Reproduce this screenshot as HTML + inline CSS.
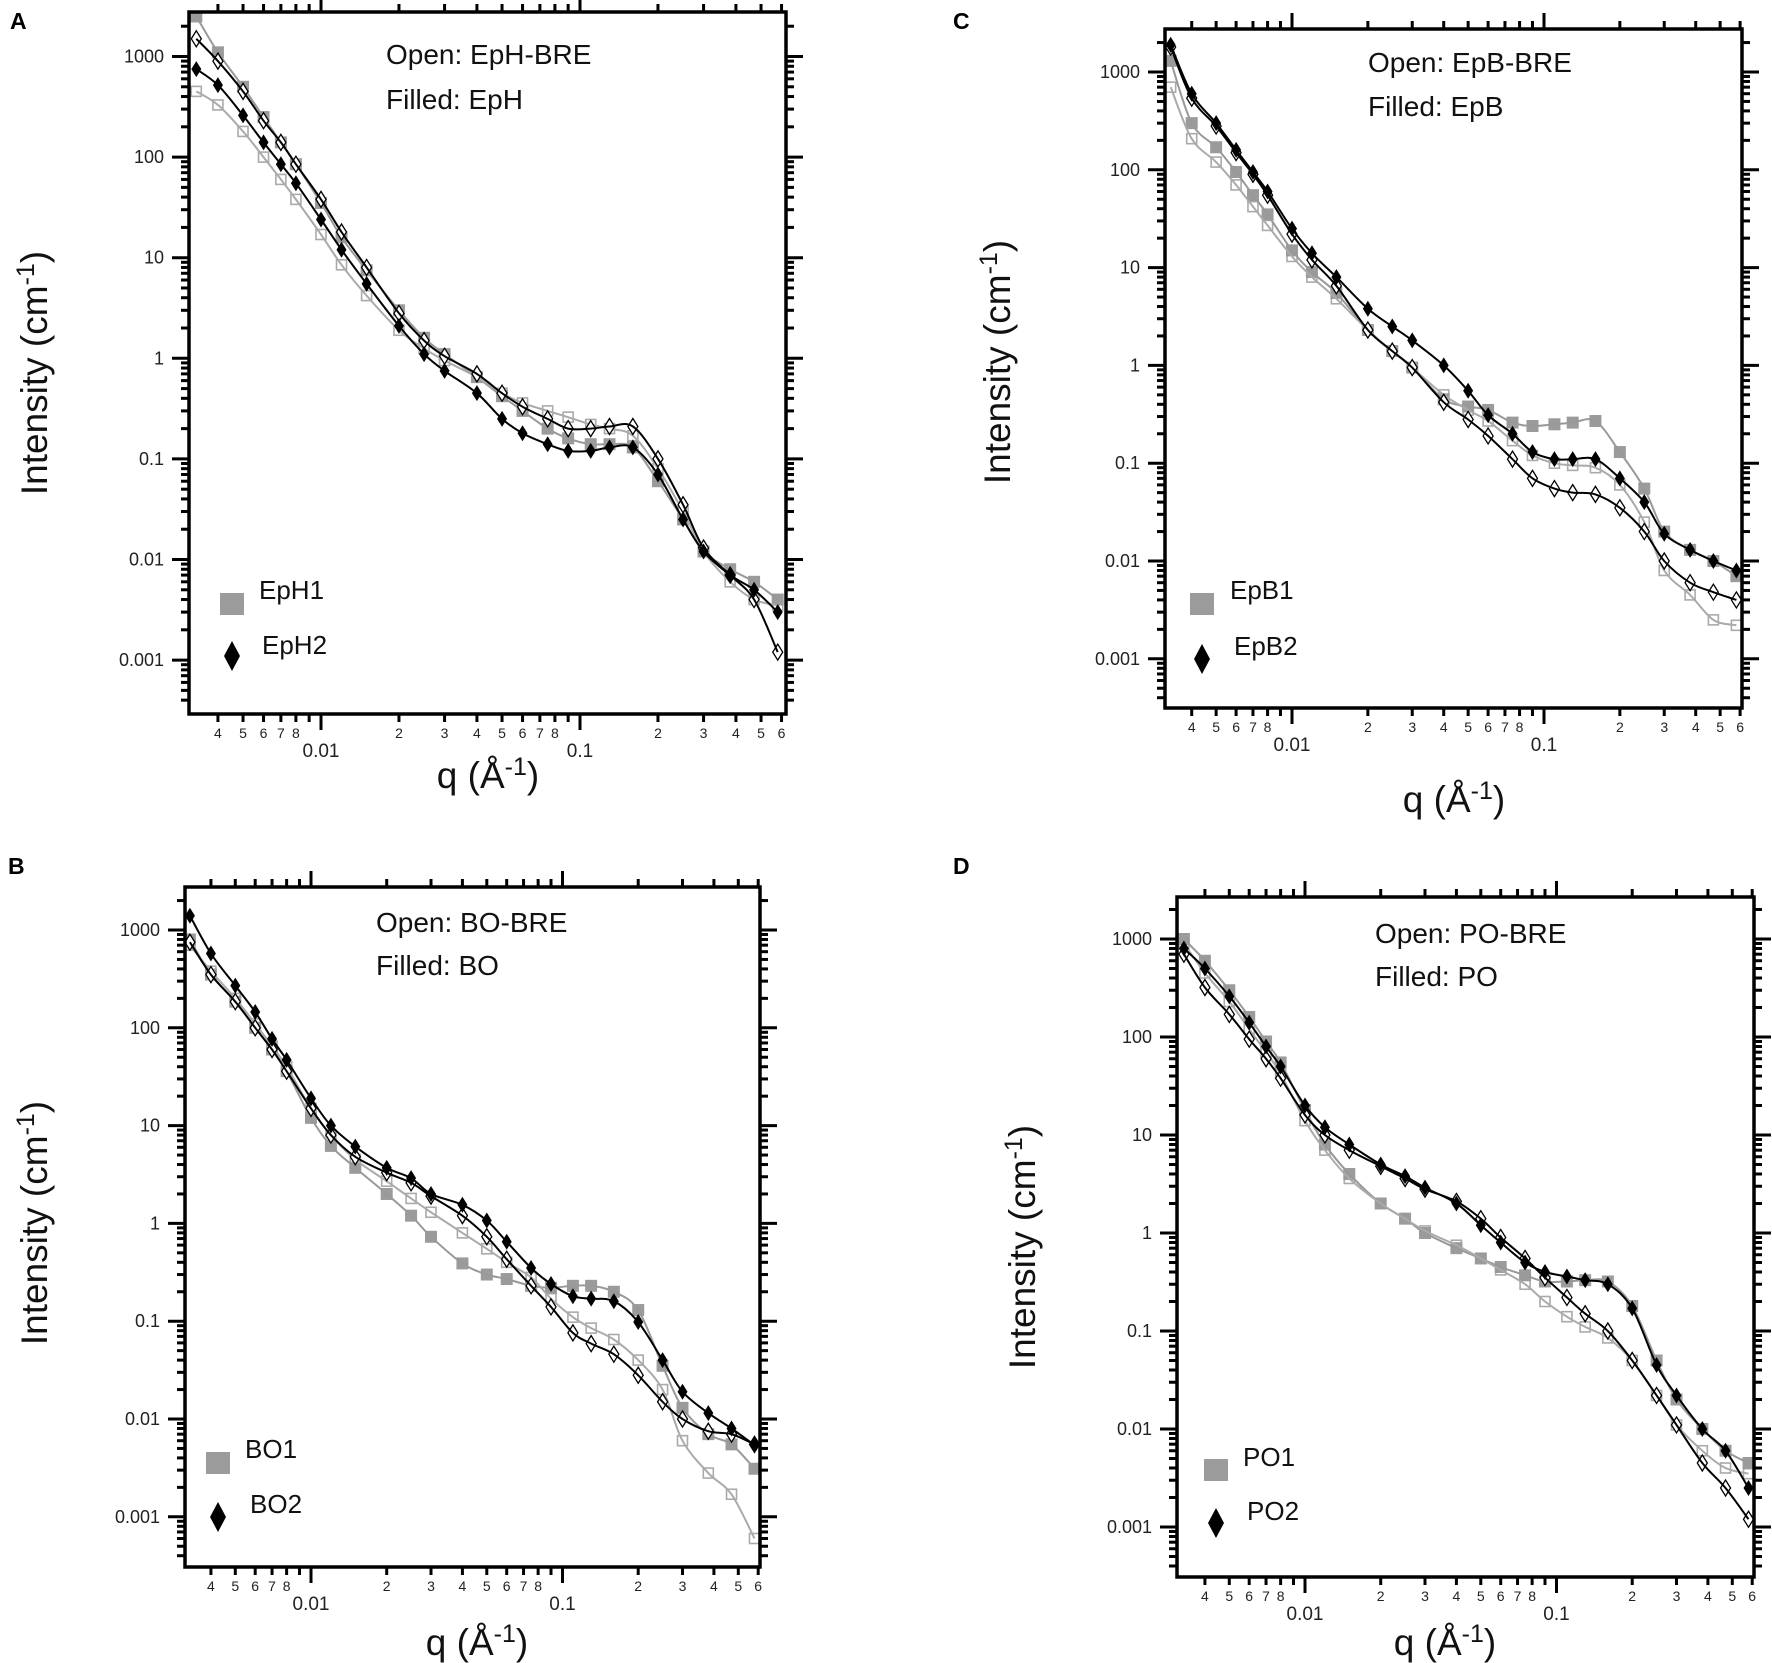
<!DOCTYPE html>
<html><head><meta charset="utf-8">
<style>
html,body{margin:0;padding:0;background:#fff;}
svg{display:block;font-family:"Liberation Sans",sans-serif;}
</style></head>
<body>
<svg id="fig" width="1772" height="1663" viewBox="0 0 1772 1663" xmlns="http://www.w3.org/2000/svg"></svg>
<script>
// shared q grid (Å^-1)
const qVals = [0.0033,0.004,0.005,0.006,0.007,0.008,0.01,0.012,0.015,0.02,0.025,0.03,0.04,0.05,0.06,0.075,0.09,0.11,0.13,0.16,0.2,0.25,0.3,0.38,0.47,0.58];

// Panel A (EpH)
const epH1 = [2500,1100,500,250,140,85,35,16,7.5,3.0,1.6,1.1,0.65,0.42,0.3,0.2,0.16,0.14,0.14,0.13,0.06,0.025,0.012,0.008,0.006,0.004];
const epH1Bre = [450,330,180,100,60,38,17,8.5,4.2,1.9,1.25,0.95,0.65,0.45,0.36,0.3,0.26,0.22,0.2,0.17,0.08,0.03,0.012,0.006,0.004,0.0035];
const epH2 = [750,520,260,140,85,55,24,12,5.5,2.1,1.1,0.75,0.45,0.25,0.18,0.14,0.12,0.12,0.13,0.13,0.07,0.025,0.012,0.007,0.005,0.003];
const epH2Bre = [1500,900,450,230,140,85,38,18,8,2.8,1.5,1.05,0.7,0.45,0.33,0.25,0.2,0.2,0.21,0.21,0.1,0.035,0.013,0.007,0.004,0.0012];

// Panel C (EpB)
const epB1 = [1300,300,170,95,55,35,15,9,5.5,2.3,1.4,0.95,0.45,0.38,0.35,0.26,0.24,0.25,0.26,0.27,0.13,0.055,0.02,0.013,0.01,0.007];
const epB1Bre = [700,208,120,70,42,27,13,8,4.8,2.3,1.4,0.95,0.5,0.35,0.27,0.17,0.12,0.1,0.095,0.09,0.06,0.025,0.008,0.0045,0.0025,0.0022];
const epB2 = [1900,600,300,160,95,60,25,14,8,3.8,2.5,1.8,1.0,0.55,0.31,0.2,0.13,0.11,0.11,0.11,0.07,0.04,0.019,0.013,0.01,0.008];
const epB2Bre = [1800,540,280,150,90,55,22,12,6.5,2.3,1.4,0.95,0.42,0.28,0.19,0.11,0.07,0.055,0.05,0.048,0.035,0.02,0.01,0.006,0.0048,0.004];

// Panel B (BO)
const bo1 = [800,350,185,100,60,36,12,6.2,3.7,2.0,1.2,0.73,0.39,0.3,0.27,0.23,0.22,0.23,0.23,0.2,0.13,0.035,0.013,0.007,0.0055,0.0031];
const bo1Bre = [700,380,200,110,65,40,15,8,4.5,2.7,1.8,1.3,0.8,0.55,0.4,0.28,0.17,0.11,0.085,0.065,0.04,0.02,0.006,0.0028,0.0017,0.0006];
const bo2 = [1400,575,270,145,77,47,19,10,6.1,3.7,2.9,2.0,1.55,1.07,0.65,0.35,0.24,0.18,0.17,0.16,0.098,0.04,0.019,0.0115,0.008,0.0054];
const bo2Bre = [750,350,185,100,60,36,15,8,4.8,3.3,2.6,1.9,1.2,0.73,0.43,0.23,0.14,0.076,0.059,0.046,0.028,0.015,0.01,0.0075,0.007,0.0055];

// Panel D (PO)
const po1 = [1000,600,300,160,90,55,18,8,4,2.0,1.4,1.0,0.7,0.55,0.45,0.37,0.32,0.32,0.33,0.32,0.18,0.05,0.02,0.01,0.006,0.0045];
const po1Bre = [900,450,230,120,70,42,14,7,3.6,2.0,1.4,1.05,0.75,0.55,0.42,0.3,0.2,0.14,0.11,0.085,0.05,0.022,0.011,0.006,0.004,0.0035];
const po2 = [800,500,260,140,80,50,20,12,8,5,3.8,2.9,2.0,1.2,0.8,0.5,0.4,0.36,0.33,0.3,0.17,0.045,0.022,0.01,0.006,0.0025];
const po2Bre = [700,320,170,95,60,38,16,10,7,4.8,3.6,2.8,2.1,1.4,0.9,0.55,0.35,0.22,0.15,0.1,0.05,0.022,0.011,0.0045,0.0025,0.0012];

const yTickLabels = ["1000","100","10","1","0.1","0.01","0.001"];
const xMajorLabels = ["0.01","0.1"];

const NS = "http://www.w3.org/2000/svg";
const svg = document.getElementById("fig");
function mk(tag, attrs, parent){
  const e = document.createElementNS(NS, tag);
  for (const k in attrs) e.setAttribute(k, attrs[k]);
  (parent||svg).appendChild(e);
  return e;
}

const panels = [
 {key:"a", letter:"A", lx:10, ly:29, L:189, R:786, T:12, B:714, x01:321, xdec:259, y1000:56.5, ydec:100.6,
  ann:["Open: EpH-BRE","Filled: EpH"], annX:386, annY:[64,109],
  leg:["EpH1","EpH2"], legSq:[232,604], legSqT:[259,599], legDi:[232,656], legDiT:[262,654],
  yT:[34,373], xT:[488,788],
  s1:epH1, s1o:epH1Bre, s2:epH2, s2o:epH2Bre},
 {key:"c", letter:"C", lx:953, ly:29, L:1165, R:1742, T:29, B:708, x01:1292, xdec:252, y1000:72, ydec:97.8,
  ann:["Open: EpB-BRE","Filled: EpB"], annX:1368, annY:[72,116],
  leg:["EpB1","EpB2"], legSq:[1202,604], legSqT:[1230,599], legDi:[1202,659], legDiT:[1234,655],
  yT:[997,362], xT:[1454,812],
  s1:epB1, s1o:epB1Bre, s2:epB2, s2o:epB2Bre},
 {key:"b", letter:"B", lx:8, ly:874, L:185, R:760, T:887, B:1567, x01:311, xdec:251.5, y1000:930, ydec:97.8,
  ann:["Open: BO-BRE","Filled: BO"], annX:376, annY:[932,975],
  leg:["BO1","BO2"], legSq:[218,1463], legSqT:[245,1458], legDi:[218,1517], legDiT:[250,1513],
  yT:[34,1223], xT:[477,1655],
  s1:bo1, s1o:bo1Bre, s2:bo2, s2o:bo2Bre},
 {key:"d", letter:"D", lx:953, ly:874, L:1177, R:1754, T:897, B:1577, x01:1305, xdec:251.5, y1000:939, ydec:98,
  ann:["Open: PO-BRE","Filled: PO"], annX:1375, annY:[943,986],
  leg:["PO1","PO2"], legSq:[1216,1470], legSqT:[1243,1466], legDi:[1216,1523], legDiT:[1247,1520],
  yT:[1022,1247], xT:[1445,1655],
  s1:po1, s1o:po1Bre, s2:po2, s2o:po2Bre}
];

function smoothPath(pts){
  let d = "M"+pts[0][0].toFixed(1)+","+pts[0][1].toFixed(1);
  for (let i=0;i<pts.length-1;i++){
    const p0=pts[i-1]||pts[i], p1=pts[i], p2=pts[i+1], p3=pts[i+2]||p2;
    const c1=[p1[0]+(p2[0]-p0[0])/6, p1[1]+(p2[1]-p0[1])/6];
    const c2=[p2[0]-(p3[0]-p1[0])/6, p2[1]-(p3[1]-p1[1])/6];
    d+=" C"+c1[0].toFixed(1)+","+c1[1].toFixed(1)+" "+c2[0].toFixed(1)+","+c2[1].toFixed(1)+" "+p2[0].toFixed(1)+","+p2[1].toFixed(1);
  }
  return d;
}

panels.forEach(P=>{
  const g = mk("g",{});
  
  
  const xS = q => P.x01 + (Math.log10(q)+2)*P.xdec;
  const yS = v => P.y1000 + (3-Math.log10(v))*P.ydec;

  const lt = mk("text",{x:P.lx,y:P.ly,"font-size":23,"font-weight":"bold",fill:"#000"},g);
  lt.textContent = P.letter;
  
  

  const cp = mk("clipPath",{id:"clip-"+P.key},g);
  mk("rect",{x:P.L,y:P.T,width:P.R-P.L,height:P.B-P.T},cp);

  const ticks = mk("g",{stroke:"#000","stroke-width":3},g);
  
  
  for (let d=-4; d<=3; d++){
    for (let m=1;m<=9;m++){
      const v = m*Math.pow(10,d);
      const y = yS(v);
      if (y<P.T+2 || y>P.B-2) continue;
      const len = m===1?17:8;
      mk("line",{x1:P.L-len,y1:y,x2:P.L,y2:y},ticks);
      mk("line",{x1:P.R,y1:y,x2:P.R+len,y2:y},ticks);
    }
  }
  for (let d=-3; d<=0; d++){
    for (let m=1;m<=9;m++){
      const v = m*Math.pow(10,d);
      const x = xS(v);
      if (x<P.L+2 || x>P.R+2) continue;
      const len = m===1?16:8;
      mk("line",{x1:x,y1:P.B,x2:x,y2:P.B+len},ticks);
      mk("line",{x1:x,y1:P.T-len,x2:x,y2:P.T},ticks);
      if (m>=2 && m<=8){
        const t = mk("text",{x:x,y:P.B+24,"font-size":14,"text-anchor":"middle",fill:"#222",stroke:"none"},g);
        t.textContent = String(m);
        
        
      }
    }
  }
  xMajorLabels.forEach(lab=>{
    const x = xS(parseFloat(lab));
    const t = mk("text",{x:x,y:P.B+43,"font-size":19,"text-anchor":"middle",fill:"#222"},g);
    t.textContent = lab;
    
    
  });
  yTickLabels.forEach(lab=>{
    const y = yS(parseFloat(lab));
    const t = mk("text",{x:P.L-25,y:y+6,"font-size":18,"text-anchor":"end",fill:"#222"},g);
    t.textContent = lab;
    
    
  });

  const dg = mk("g",{"clip-path":"url(#clip-"+P.key+")"},g);
  function line(arr,color,name){
    const pts = qVals.map((q,i)=>[xS(q),yS(arr[i])]);
    const p = mk("path",{d:smoothPath(pts),fill:"none",stroke:color,"stroke-width":2},dg);
    
    
  }
  function squares(arr,filled,name){
    const sg = mk("g",{},dg);
    
    
    qVals.forEach((q,i)=>{
      const x=xS(q), y=yS(arr[i]);
      const r = mk("rect",filled?{x:x-6,y:y-6,width:12,height:12,fill:"#9b9b9b"}:{x:x-5,y:y-5,width:10,height:10,fill:"#fff",stroke:"#aaa","stroke-width":1.6},sg);
      
      
    });
  }
  function diamonds(arr,filled,name){
    const sg = mk("g",{},dg);
    
    
    qVals.forEach((q,i)=>{
      const x=xS(q), y=yS(arr[i]);
      const pts = `${x},${y-8} ${x+5},${y} ${x},${y+8} ${x-5},${y}`;
      const r = mk("polygon",filled?{points:pts,fill:"#000"}:{points:pts,fill:"#fff",stroke:"#000","stroke-width":1.3},sg);
      
      
    });
  }
  squares(P.s1o,false,'series-'+P.leg[0]+'-bre');
  squares(P.s1,true,'series-'+P.leg[0]);
  line(P.s1,"#999",'fit-'+P.leg[0]);
  line(P.s1o,"#aaa",'fit-'+P.leg[0]+'-bre');
  diamonds(P.s2o,false,'series-'+P.leg[1]+'-bre');
  diamonds(P.s2,true,'series-'+P.leg[1]);
  line(P.s2,"#000",'fit-'+P.leg[1]);
  line(P.s2o,"#000",'fit-'+P.leg[1]+'-bre');

  const fr = mk("rect",{x:P.L,y:P.T,width:P.R-P.L,height:P.B-P.T,fill:"none",stroke:"#000","stroke-width":3.5},g);
  
  

  P.ann.forEach((s,i)=>{
    const t = mk("text",{x:P.annX,y:P.annY[i],"font-size":28,fill:"#111"},g);
    t.textContent = s;
    
    
  });

  const lg = mk("g",{},g);
  
  
  const ls = mk("rect",{x:P.legSq[0]-12,y:P.legSq[1]-11,width:24,height:22,fill:"#9b9b9b"},lg);
  
  
  const lt1 = mk("text",{x:P.legSqT[0],y:P.legSqT[1],"font-size":26,fill:"#111"},lg);
  lt1.textContent = P.leg[0];
  
  
  const dx=P.legDi[0], dy=P.legDi[1];
  const ld = mk("polygon",{points:`${dx},${dy-15} ${dx+8},${dy} ${dx},${dy+15} ${dx-8},${dy}`,fill:"#000"},lg);
  
  
  const lt2 = mk("text",{x:P.legDiT[0],y:P.legDiT[1],"font-size":26,fill:"#111"},lg);
  lt2.textContent = P.leg[1];
  
  

  const yt = mk("text",{x:0,y:0,"font-size":37,"text-anchor":"middle",fill:"#111",transform:`translate(${P.yT[0]+13},${P.yT[1]}) rotate(-90)`},g);
  yt.innerHTML = 'Intensity (cm<tspan dy="-13" font-size="25">-1</tspan><tspan dy="13">)</tspan>';
  
  
  const xt = mk("text",{x:P.xT[0],y:P.xT[1],"font-size":37,"text-anchor":"middle",fill:"#111"},g);
  xt.innerHTML = 'q (Å<tspan dy="-13" font-size="25">-1</tspan><tspan dy="13">)</tspan>';
  
  
});
</script>
</body></html>
